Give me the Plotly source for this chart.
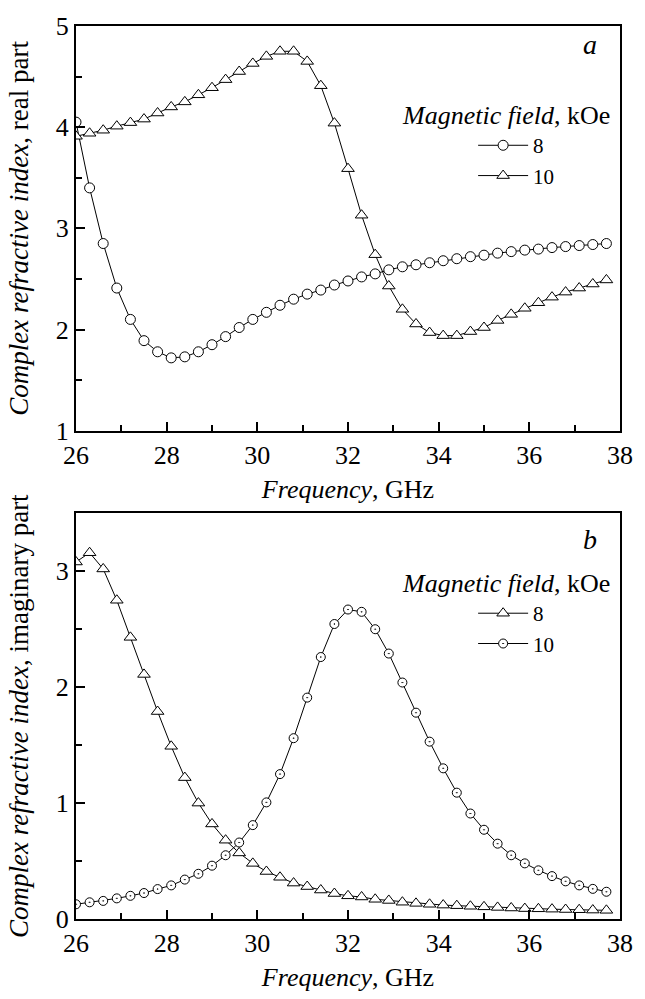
import plotly.graph_objects as go
import numpy as np

# frequency grid (GHz), 40 points with 0.3 GHz step
freq = np.round(26.0 + 0.3 * np.arange(40), 2)

# panel a: real part
re_8 = [4.05, 3.40, 2.85, 2.41, 2.10, 1.89, 1.78, 1.72, 1.73, 1.78,
        1.85, 1.93, 2.02, 2.10, 2.17, 2.24, 2.30, 2.35, 2.39, 2.44,
        2.48, 2.52, 2.55, 2.59, 2.62, 2.64, 2.66, 2.68, 2.70, 2.72,
        2.735, 2.755, 2.77, 2.785, 2.795, 2.81, 2.82, 2.83, 2.84, 2.85]
re_10 = [3.91, 3.94, 3.97, 4.01, 4.045, 4.08, 4.14, 4.20, 4.25, 4.32,
         4.39, 4.47, 4.55, 4.63, 4.70, 4.75, 4.75, 4.65, 4.41, 4.04,
         3.59, 3.13, 2.74, 2.43, 2.20, 2.055, 1.97, 1.94, 1.94, 1.98,
         2.02, 2.09, 2.15, 2.21, 2.265, 2.32, 2.37, 2.41, 2.45, 2.49]

# panel b: imaginary part
im_8 = [3.08, 3.16, 3.02, 2.75, 2.43, 2.11, 1.79, 1.49, 1.22, 1.00,
        0.82, 0.68, 0.57, 0.48, 0.41, 0.36, 0.31, 0.28, 0.25, 0.22,
        0.20, 0.19, 0.17, 0.16, 0.145, 0.135, 0.127, 0.12, 0.115, 0.11,
        0.105, 0.10, 0.095, 0.09, 0.088, 0.085, 0.082, 0.08, 0.077, 0.075]
im_10 = [0.127, 0.144, 0.156, 0.178, 0.20, 0.224, 0.258, 0.29, 0.34, 0.39,
         0.46, 0.55, 0.66, 0.81, 1.006, 1.25, 1.56, 1.91, 2.26, 2.545,
         2.67, 2.65, 2.50, 2.29, 2.04, 1.78, 1.53, 1.30, 1.09, 0.91,
         0.77, 0.65, 0.55, 0.48, 0.42, 0.37, 0.325, 0.29, 0.26, 0.235]

FONT = "Liberation Serif, Times New Roman, Times, serif"

fig = go.Figure()

line = dict(color='black', width=1)

fig.add_trace(go.Scatter(x=freq, y=re_8, mode='lines+markers', name='8',
                         line=line, xaxis='x', yaxis='y', legend='legend',
                         marker=dict(symbol='circle', size=10, color='white',
                                     line=dict(color='black', width=1))))
fig.add_trace(go.Scatter(x=freq, y=re_10, mode='lines+markers', name='10',
                         line=line, xaxis='x', yaxis='y', legend='legend',
                         marker=dict(symbol='triangle-up', size=11, color='white',
                                     line=dict(color='black', width=1))))
fig.add_trace(go.Scatter(x=freq, y=im_8, mode='lines+markers', name='8',
                         line=line, xaxis='x2', yaxis='y2', legend='legend2',
                         marker=dict(symbol='triangle-up', size=11, color='white',
                                     line=dict(color='black', width=1))))
fig.add_trace(go.Scatter(x=freq, y=im_10, mode='lines+markers', name='10',
                         line=line, xaxis='x2', yaxis='y2', legend='legend2',
                         marker=dict(symbol='circle-dot', size=9, color='white',
                                     line=dict(color='black', width=1))))

axis_common = dict(
    showline=True, linecolor='black', linewidth=2, mirror=True,
    ticks='inside', ticklen=9, tickwidth=1.5, tickcolor='black',
    showgrid=False, zeroline=False,
    tickfont=dict(family=FONT, size=26, color='black'),
)
minor_x = dict(dtick=1, ticks='inside', ticklen=6, tickcolor='black', tickwidth=1.5)
minor_y = dict(dtick=0.5, ticks='inside', ticklen=6, tickcolor='black', tickwidth=1.5)

xtitle = dict(text='<i>Frequency</i>, GHz', font=dict(family=FONT, size=26, color='black'), standoff=11)
ytitle_font = dict(family=FONT, size=27, color='black')
legend_font = dict(family=FONT, size=21, color='black')
legtitle_font = dict(family=FONT, size=26, color='black')

fig.update_layout(
    width=645, height=999,
    margin=dict(l=76, r=17, t=19, b=71),
    paper_bgcolor='white', plot_bgcolor='white',
    font=dict(family=FONT, color='black'),
    showlegend=True,
    xaxis=dict(axis_common, domain=[0, 1], anchor='y', range=[26, 38], dtick=2,
               minor=minor_x, title=xtitle),
    yaxis=dict(axis_common, domain=[0.5468, 1], anchor='x', range=[1, 5], dtick=1,
               minor=minor_y,
               title=dict(text='<i>Complex refractive index</i>, real part',
                          font=ytitle_font, standoff=19)),
    xaxis2=dict(axis_common, domain=[0, 1], anchor='y2', range=[26, 38], dtick=2,
                minor=minor_x, title=xtitle),
    yaxis2=dict(axis_common, domain=[0, 0.4543], anchor='x2', range=[0, 3.5], dtick=1,
                minor=minor_y,
                title=dict(text='<i>Complex refractive index</i>, imaginary part',
                           font=ytitle_font, standoff=19)),
    legend=dict(x=0.73, y=0.889, xanchor='left', yanchor='top',
                bgcolor='rgba(0,0,0,0)', font=legend_font,
                itemwidth=50, tracegroupgap=0),
    legend2=dict(x=0.73, y=0.365, xanchor='left', yanchor='top',
                 bgcolor='rgba(0,0,0,0)', font=legend_font,
                 itemwidth=50, tracegroupgap=0),
    annotations=[
        dict(text='<i>Magnetic field</i>, kOe', xref='paper', yref='paper',
             x=0.985, y=0.8995, xanchor='right', yanchor='middle', showarrow=False,
             font=legtitle_font),
        dict(text='<i>Magnetic field</i>, kOe', xref='paper', yref='paper',
             x=0.985, y=0.376, xanchor='right', yanchor='middle', showarrow=False,
             font=legtitle_font),
        dict(text='<i>a</i>', xref='paper', yref='paper',
             x=0.9457, y=0.979, xanchor='center', yanchor='middle', showarrow=False,
             font=dict(family=FONT, size=28, color='black')),
        dict(text='<i>b</i>', xref='paper', yref='paper',
             x=0.944, y=0.4255, xanchor='center', yanchor='middle', showarrow=False,
             font=dict(family=FONT, size=28, color='black')),
    ],
)

# drop the default 8px body margin so the figure sits at the window origin
fig.write_html("out.html", config={'displayModeBar': False},
               post_script="document.body.style.margin='0px';")
